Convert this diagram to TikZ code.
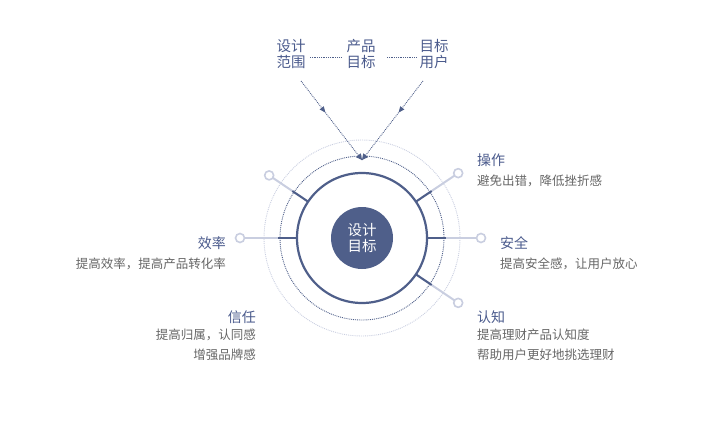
\documentclass[tikz,border=0pt]{standalone}
\usepackage{fontspec}
\setmainfont{Noto Sans CJK SC}
\usetikzlibrary{arrows.meta,decorations.markings,calc}
\definecolor{navy}{HTML}{4F5F8A}
\definecolor{lite}{HTML}{C9CEE0}
\definecolor{gtxt}{HTML}{666666}
\definecolor{ttxt}{HTML}{4A5A8C}
\tikzset{
 px/.style={x=1pt,y=-1pt},
 ttl/.style={text=ttxt,font=\fontsize{14}{16}\selectfont,inner sep=0pt},
 sub/.style={text=gtxt,font=\fontsize{12.5}{20}\selectfont,inner sep=0pt,align=left},
 toplab/.style={text=ttxt,font=\fontsize{14.5}{16}\selectfont,inner sep=0pt,align=center},
 knob/.style={circle,draw=lite,line width=1.6pt,fill=white,minimum size=9pt,inner sep=0pt},
 dk/.style={navy,line width=2pt},
 lt/.style={lite,line width=2pt},
 dotarrow/.style={navy,densely dotted,line width=0.9pt,postaction={decorate},
   decoration={markings,mark=at position 0.4 with {\arrow{Triangle[length=6pt,width=5pt]}},
   mark=at position 1 with {\arrow{Triangle[length=6pt,width=6pt]}}}}
}
\begin{document}
\begin{tikzpicture}[px]
\useasboundingbox (0,0) rectangle (720,444);
\coordinate (c) at (362,238);
% circles
\draw[lite,densely dotted,line width=0.9pt] (c) circle (98);
\draw[navy,densely dotted,line width=0.9pt] (c) circle (82);
% spokes
\foreach \a/\n/\r in {0/r/119, 180/l/122, 34/ur/116, -34/lr/116, 214/ll/112}{
  \draw[lt] ($(c)+(\a:65)$) -- ($(c)+(\a:\r-4)$);
  \draw[dk] ($(c)+(\a:65)$) -- ($(c)+(\a:84)$);
  \node[knob] (k\n) at ($(c)+(\a:\r)$) {};
}
\draw[navy,line width=2.2pt,fill=white] (c) circle (65);
\node[circle,fill=navy,minimum size=62pt,inner sep=0pt,text=white,align=center,
  font=\fontsize{14.5}{16}\selectfont] (center) at (c) {设计\\目标};
% top
\node[toplab] (t1) at (291,54) {设计\\范围};
\node[toplab] (t2) at (361,54) {产品\\目标};
\node[toplab] (t3) at (434,54) {目标\\用户};
\draw[navy,densely dotted,line width=0.8pt] (310,57) -- (342,57);
\draw[navy,densely dotted,line width=0.8pt] (387,57) -- (416,57);
\coordinate (tip) at (362,160);
\draw[dotarrow] (301,81) -- (tip);
\draw[dotarrow] (423,81) -- (tip);
% labels
\node[ttl,anchor=west] (a1) at (477,160) {操作};
\node[sub,anchor=west] (a2) at (477,181) {避免出错，降低挫折感};
\node[ttl,anchor=west] (b1) at (500,243) {安全};
\node[sub,anchor=west] (b2) at (500,264) {提高安全感，让用户放心};
\node[ttl,anchor=west] (c1) at (477,317) {认知};
\node[sub,anchor=north west] (c2) at (477,329) {提高理财产品认知度\\帮助用户更好地挑选理财};
\node[ttl,anchor=east] (d1) at (226,243) {效率};
\node[sub,anchor=east] (d2) at (226,264) {提高效率，提高产品转化率};
\node[ttl,anchor=east] (e1) at (256,317) {信任};
\node[sub,anchor=north east,align=right] (e2) at (256,329) {提高归属，认同感\\增强品牌感};
\end{tikzpicture}
\end{document}
